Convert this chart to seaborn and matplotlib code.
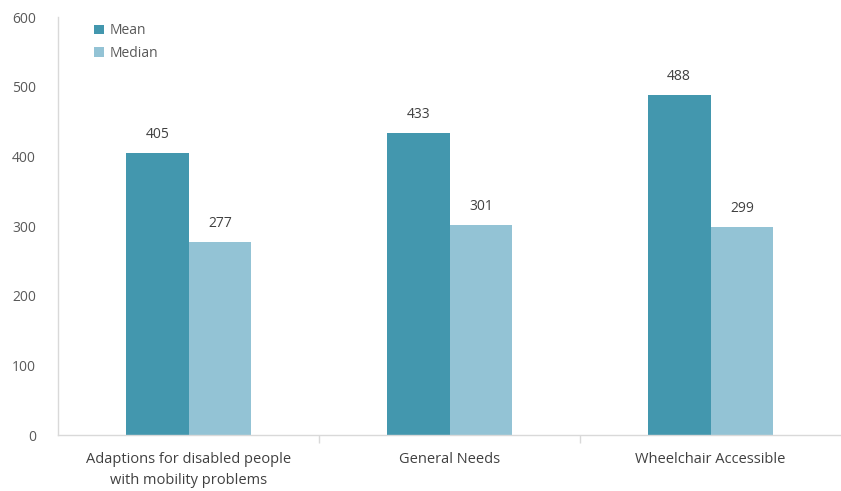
import matplotlib
matplotlib.use("Agg")
import matplotlib.pyplot as plt
import seaborn as sns
import pandas as pd
from matplotlib.ticker import FixedLocator

categories = ["Adaptions for disabled people\nwith mobility problems", "General Needs", "Wheelchair Accessible"]
mean_vals = [405, 433, 488]
median_vals = [277, 301, 299]
series = ["Mean", "Median"]
yticks = [0, 100, 200, 300, 400, 500, 600]

df = pd.DataFrame({
    "category": categories * 2,
    "value": mean_vals + median_vals,
    "series": [series[0]] * 3 + [series[1]] * 3,
})

sns.set_theme(style="white")
plt.rcParams["font.family"] = ["Open Sans", "DejaVu Sans"]

fig = plt.figure(figsize=(8.41, 4.91), dpi=100)
ax = fig.add_axes([0.069, 0.114, 0.931, 0.851])
palette = {"Mean": "#4397AE", "Median": "#93C3D5"}
sns.barplot(data=df, x="category", y="value", hue="series", palette=palette,
            width=0.48, gap=0, ax=ax, saturation=1, errorbar=None, linewidth=0)

for cont in ax.containers:
    ax.bar_label(cont, labels=[f"{int(v)}" for v in cont.datavalues], padding=8,
                 fontsize=10, color="#404040")

ax.set_ylim(0, 600)
ax.set_xlim(-0.5, 2.5)
ax.set_yticks(yticks)
ax.set_xlabel("")
ax.set_ylabel("")
for s in ["top", "right"]:
    ax.spines[s].set_visible(False)
for s in ["left", "bottom"]:
    ax.spines[s].set_color("#D9D9D9")
    ax.spines[s].set_linewidth(1)
ax.tick_params(axis="y", which="major", length=4, color="#D9D9D9", labelsize=10, labelcolor="#595959", pad=12)
ax.tick_params(axis="x", which="major", length=0, labelsize=10.5, labelcolor="#404040", pad=12)
for t in ax.get_xticklabels():
    t.set_linespacing(1.6)
ax.xaxis.set_minor_locator(FixedLocator([0.5, 1.5]))
ax.tick_params(axis="x", which="minor", length=6, color="#D9D9D9", bottom=True)

leg = ax.legend(loc="upper left", bbox_to_anchor=(0.03, 1.015), frameon=False, fontsize=10,
                handlelength=0.7, handleheight=0.7, handletextpad=0.4, labelspacing=0.55)
for t in leg.get_texts():
    t.set_color("#595959")

fig.savefig("out.png", dpi=100)
